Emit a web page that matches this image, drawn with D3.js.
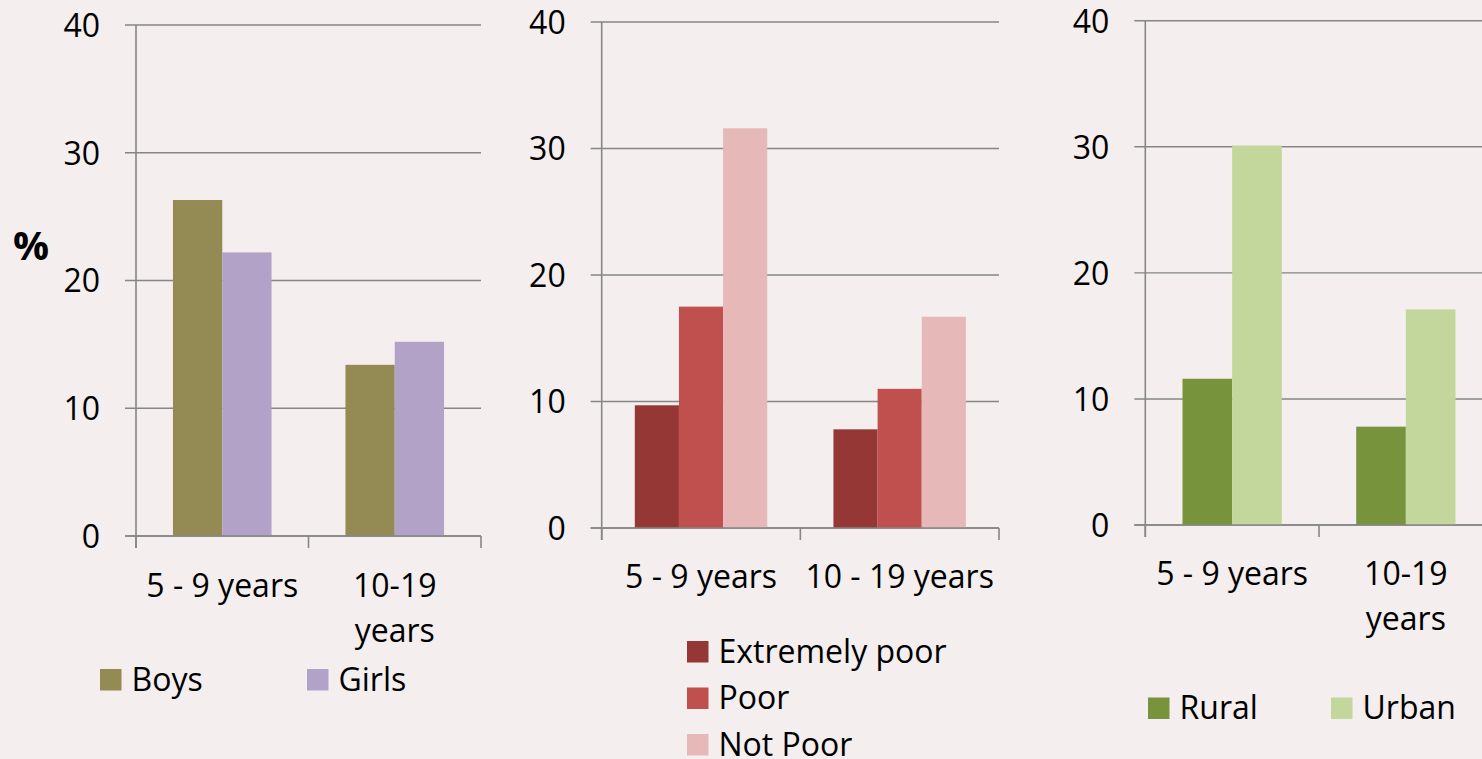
<!DOCTYPE html>
<html>
<head>
<meta charset="utf-8">
<script src="https://cdn.jsdelivr.net/npm/d3@7"></script>
<style>
  html, body { margin: 0; padding: 0; background: #f4eeee; }
  svg { display: block; }
  text { font-family: "Open Sans", sans-serif; fill: #000; }
</style>
</head>
<body>
<svg id="chart" width="1482" height="759"></svg>
<script>
// ---------------- DATA ----------------
const yTicks = [0, 10, 20, 30, 40];

const sexCategories = ["5 - 9 years", "10-19 years"];
const sexSeries = ["Boys", "Girls"];
const boysValues = [26.3, 13.4];
const girlsValues = [22.2, 15.2];

const povertyCategories = ["5 - 9 years", "10 - 19 years"];
const povertySeries = ["Extremely poor", "Poor", "Not Poor"];
const extremelyPoorValues = [9.7, 7.8];
const poorValues = [17.5, 11.0];
const notPoorValues = [31.6, 16.7];

const areaCategories = ["5 - 9 years", "10-19 years"];
const areaSeries = ["Rural", "Urban"];
const ruralValues = [11.6, 7.8];
const urbanValues = [30.1, 17.1];

const yAxisLabel = "%";

// ---------------- STYLE / LAYOUT ----------------
const colors = {
  "Boys": "#948a54", "Girls": "#b3a2c7",
  "Extremely poor": "#953735", "Poor": "#c0504d", "Not Poor": "#e6b9b8",
  "Rural": "#77933c", "Urban": "#c3d69b"
};
const gridColor = "#868686";
const fontSize = 32;

const panels = [
  {
    categories: sexCategories, series: sexSeries,
    values: [boysValues, girlsValues],
    left: 136, right: 481, top: 25, bottom: 536,
    wrapWidth: 160, labelBaseline: 61, lineGap: 45,
    legend: { type: "row", x: 100, y: 669, items: [100, 307] }
  },
  {
    categories: povertyCategories, series: povertySeries,
    values: [extremelyPoorValues, poorValues, notPoorValues],
    left: 601.7, right: 999, top: 22, bottom: 528,
    wrapWidth: 220, labelBaseline: 60, lineGap: 45,
    legend: { type: "col", x: 687, y: 641, step: 46.5 }
  },
  {
    categories: areaCategories, series: areaSeries,
    values: [ruralValues, urbanValues],
    left: 1145.3, right: 1492.7, top: 20.7, bottom: 525,
    wrapWidth: 160, labelBaseline: 60, lineGap: 45,
    legend: { type: "row", x: 1148, y: 697.5, items: [1148, 1331] }
  }
];

const svg = d3.select("#chart");
svg.append("rect").attr("width", 1482).attr("height", 759).attr("fill", "#f4eeee");

panels.forEach(p => {
  const g = svg.append("g");
  const y = d3.scaleLinear().domain([0, 40]).range([p.bottom, p.top]);
  const x0 = d3.scaleBand().domain(p.categories).range([p.left, p.right]).paddingInner(0).paddingOuter(0);
  const bw = x0.bandwidth();
  const n = p.series.length;
  const barW = bw / (n + 1.5);
  const x1 = d3.scaleBand().domain(p.series).range([0.75 * barW, bw - 0.75 * barW]).padding(0);

  // gridlines
  g.append("g").selectAll("line").data(yTicks).join("line")
    .attr("x1", p.left - 11).attr("x2", p.right)
    .attr("y1", d => y(d)).attr("y2", d => y(d))
    .attr("stroke", gridColor).attr("stroke-width", 1.4);

  // y axis with labels
  const yAxis = d3.axisLeft(y).tickValues(yTicks).tickSize(0).tickPadding(36).tickFormat(d3.format("d"));
  const ya = g.append("g").attr("transform", `translate(${p.left},0)`).call(yAxis);
  ya.select(".domain").remove();
  ya.selectAll("text").attr("font-size", fontSize).attr("font-family", "Open Sans, sans-serif")
    .attr("fill", "#000").attr("dy", "0.357em");

  // bars
  p.series.forEach((s, si) => {
    g.append("g").selectAll("rect").data(p.categories).join("rect")
      .attr("x", (c) => x0(c) + x1(s))
      .attr("width", x1.bandwidth())
      .attr("y", (c, ci) => y(p.values[si][ci]))
      .attr("height", (c, ci) => y(0) - y(p.values[si][ci]))
      .attr("fill", colors[s]);
  });

  // vertical axis line
  g.append("line").attr("x1", p.left).attr("x2", p.left).attr("y1", p.top).attr("y2", p.bottom + 12)
    .attr("stroke", gridColor).attr("stroke-width", 1.6);
  // x axis baseline
  g.append("line").attr("x1", p.left - 11).attr("x2", p.right).attr("y1", p.bottom).attr("y2", p.bottom)
    .attr("stroke", gridColor).attr("stroke-width", 1.6);
  // x tick marks at band boundaries
  const bounds = p.categories.map(c => x0(c)).concat([p.right]);
  g.append("g").selectAll("line").data(bounds).join("line")
    .attr("x1", d => d).attr("x2", d => d)
    .attr("y1", p.bottom).attr("y2", p.bottom + 12)
    .attr("stroke", gridColor).attr("stroke-width", 1.6);

  // category labels (wrapped)
  p.categories.forEach(c => {
    const t = g.append("text").attr("text-anchor", "middle").attr("font-size", fontSize)
      .attr("x", x0(c) + bw / 2).attr("y", p.bottom + p.labelBaseline).text(c);
    if (t.node().getComputedTextLength() > p.wrapWidth) {
      const i = c.lastIndexOf(" ");
      const lines = [c.slice(0, i), c.slice(i + 1)];
      t.text(null);
      lines.forEach((ln, li) => {
        t.append("tspan").attr("x", x0(c) + bw / 2).attr("y", p.bottom + p.labelBaseline + li * p.lineGap).text(ln);
      });
    }
  });

  // legend
  const sq = 21.5;
  p.series.forEach((s, si) => {
    let lx, ly;
    if (p.legend.type === "row") { lx = p.legend.items[si]; ly = p.legend.y; }
    else { lx = p.legend.x; ly = p.legend.y + si * p.legend.step; }
    g.append("rect").attr("x", lx).attr("y", ly).attr("width", sq).attr("height", sq).attr("fill", colors[s]);
    g.append("text").attr("x", lx + sq + 10).attr("y", ly + sq).attr("font-size", fontSize).text(s);
  });
});

// "%" axis label
svg.append("text").attr("x", 31).attr("y", 260).attr("text-anchor", "middle")
  .attr("font-size", 40).attr("font-weight", "bold").text(yAxisLabel);
</script>
</body>
</html>
